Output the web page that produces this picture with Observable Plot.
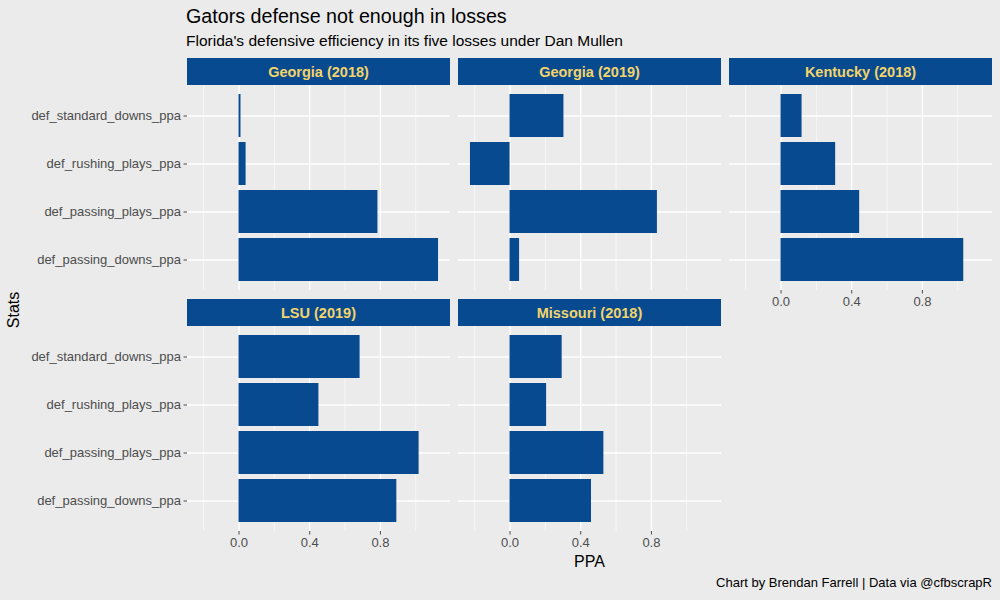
<!DOCTYPE html>
<html>
<head>
<meta charset="utf-8">
<script src="https://cdn.jsdelivr.net/npm/d3@7"></script>
<script src="https://cdn.jsdelivr.net/npm/@observablehq/plot@0.6"></script>
<style>
  html, body { margin: 0; padding: 0; background: #EBEBEB; }
  #chart { position: relative; width: 1000px; height: 600px; background: #EBEBEB; overflow: hidden;
           font-family: "Liberation Sans", Arial, Helvetica, sans-serif; }
  .abs { position: absolute; z-index: 2; }
  .strip { position: absolute; background: #084A8F; color: #F2D46B; font-weight: bold; font-size: 14.5px;
           display: flex; align-items: center; justify-content: center; }
  .title { left: 186px; top: 5px; font-size: 19.7px; color: #000; white-space: nowrap; }
  .subtitle { left: 186px; top: 32px; font-size: 15.5px; color: #000; white-space: nowrap; }
  .caption { right: 8px; top: 575px; font-size: 13px; color: #000; white-space: nowrap; }
  .xtitle { left: 187px; width: 805px; top: 553px; text-align: center; font-size: 16px; color: #000; }
  .ytitle { left: 14px; top: 310px; font-size: 16px; color: #000; transform: translate(-50%, -50%) rotate(-90deg); white-space: nowrap; }
</style>
</head>
<body>
<div id="chart"></div>
<script>
// ---- data ----
const stats = ["def_passing_downs_ppa", "def_passing_plays_ppa", "def_rushing_plays_ppa", "def_standard_downs_ppa"];
const games = ["Georgia (2018)", "Georgia (2019)", "Kentucky (2018)", "LSU (2019)", "Missouri (2018)"];
const georgia2018 = [1.129, 0.786, 0.040, 0.011];
const georgia2019 = [0.054, 0.834, -0.224, 0.305];
const kentucky2018 = [1.034, 0.445, 0.309, 0.119];
const lsu2019 = [0.893, 1.019, 0.452, 0.685];
const missouri2018 = [0.461, 0.531, 0.207, 0.295];
const majorTicks = [0, 0.4, 0.8];
const minorTicks = [-0.2, 0.2, 0.6, 1.0];

const seriesByGame = [georgia2018, georgia2019, kentucky2018, lsu2019, missouri2018];

const titleText = "Gators defense not enough in losses";
const subtitleText = "Florida's defensive efficiency in its five losses under Dan Mullen";
const captionText = "Chart by Brendan Farrell | Data via @cfbscrapR";

// ---- shared scales ----
const allVals = [0, ...seriesByGame.flat()];
const lo = d3.min(allVals), hi = d3.max(allVals);
const ex = (hi - lo) * 0.05;
const xDomain = [lo - ex, hi + ex];
const yDomain = stats.slice().reverse();

// ---- layout ----
const colX = [187, 458, 729];
const panelW = 263;
const stripTop = [58, 299];
const stripH = 27;
const panelTop = [85, 326];
const panelH = 205;
const blue = "#084A8F";
const font = "'Liberation Sans', Arial, Helvetica, sans-serif";

const chart = document.getElementById("chart");

function addDiv(cls, text, style) {
  const d = document.createElement("div");
  d.className = cls;
  d.textContent = text;
  if (style) Object.assign(d.style, style);
  chart.appendChild(d);
  return d;
}

function panel(gi, col, row, showY, showX) {
  const data = stats.map((s, i) => ({stat: s, value: seriesByGame[gi][i]}));
  const ml = showY ? colX[col] : 0;
  const mb = showX ? 30 : 0;
  const marks = [
    Plot.frame({fill: "#EBEBEB", stroke: null}),
    Plot.gridX({ticks: minorTicks, stroke: "white", strokeOpacity: 1, strokeWidth: 0.6}),
    Plot.gridX({ticks: majorTicks, stroke: "white", strokeOpacity: 1, strokeWidth: 1.3}),
    Plot.gridY({stroke: "white", strokeOpacity: 1, strokeWidth: 1.3}),
    Plot.barX(data, {x: "value", y: "stat", fill: blue})
  ];
  if (showY) marks.push(Plot.axisY({tickSize: 3.5, tickPadding: 3, fontSize: 13, color: "#4D4D4D", label: null}));
  if (showX) marks.push(Plot.axisX({ticks: majorTicks, tickFormat: d3.format(".1f"), tickSize: 3.5, tickPadding: 3, fontSize: 13, color: "#4D4D4D", label: null}));
  const svg = Plot.plot({
    width: ml + panelW,
    height: panelH + mb,
    marginLeft: ml, marginRight: 0, marginTop: 0, marginBottom: mb,
    style: {background: "transparent", fontFamily: font, fontSize: "13px", overflow: "visible"},
    x: {domain: xDomain, axis: showX ? undefined : null},
    y: {domain: yDomain, paddingInner: 0.1, paddingOuter: 0.15, axis: showY ? undefined : null},
    marks
  });
  svg.style.position = "absolute";
  svg.style.left = (showY ? 0 : colX[col]) + "px";
  svg.style.top = panelTop[row] + "px";
  chart.appendChild(svg);
  addDiv("strip", games[gi], {left: colX[col] + "px", top: stripTop[row] + "px", width: panelW + "px", height: stripH + "px"});
}

panel(0, 0, 0, true, false);
panel(1, 1, 0, false, false);
panel(2, 2, 0, false, true);
panel(3, 0, 1, true, true);
panel(4, 1, 1, false, true);

addDiv("abs title", titleText);
addDiv("abs subtitle", subtitleText);
addDiv("abs caption", captionText);
addDiv("abs xtitle", "PPA");
addDiv("abs ytitle", "Stats");
</script>
</body>
</html>
